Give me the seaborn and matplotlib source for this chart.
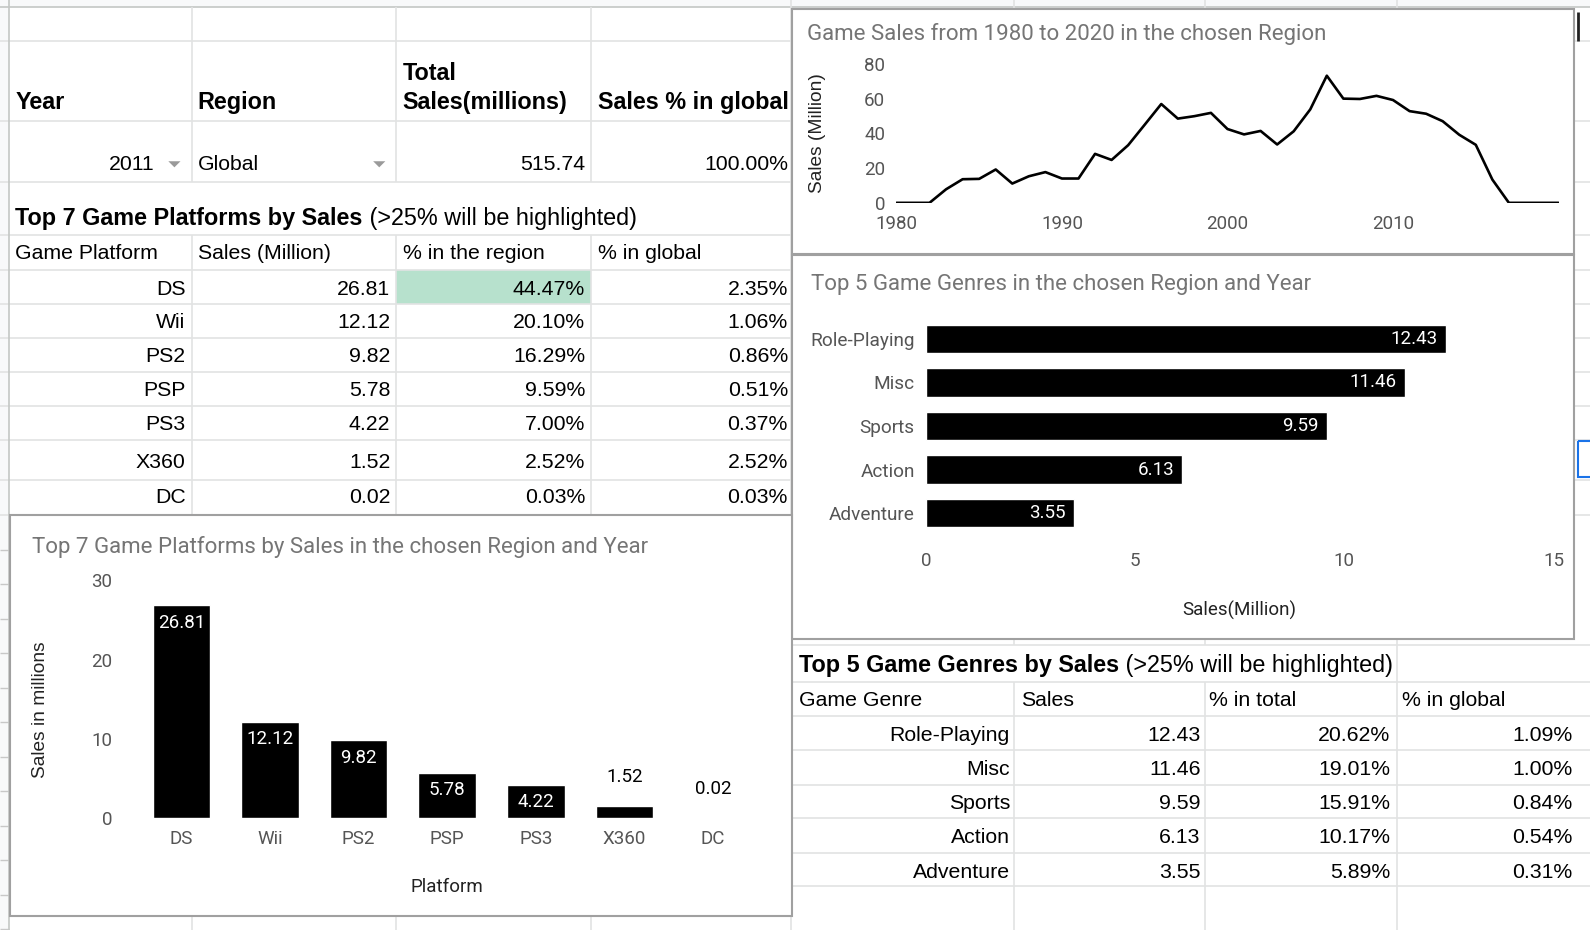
import numpy as np
import pandas as pd
import matplotlib.pyplot as plt
from matplotlib.patches import Rectangle, Polygon
import seaborn as sns

# layout was measured on the screenshot in pixels (W x H)
W, H = 1568, 917

# ---- data ----
years = list(range(1980, 2021))
region_sales = [0, 0, 0, 7.8, 13.6, 13.8, 19.2, 11.1, 15.3, 17.7,
                14.0, 14.0, 28.2, 24.7, 33.2, 45.0, 56.9, 48.5, 49.9, 51.8,
                42.5, 39.4, 41.4, 33.6, 41.2, 53.8, 73.2, 60.0, 59.8, 61.6,
                59.2, 52.8, 51.3, 47.0, 39.2, 33.4, 13.4, 0, 0, 0, 0]

sel_year = "2011"
sel_region = "Global"
sel_total = "515.74"
sel_pct = "100.00%"

platforms = ["DS", "Wii", "PS2", "PSP", "PS3", "X360", "DC"]
platform_sales = [26.81, 12.12, 9.82, 5.78, 4.22, 1.52, 0.02]
platform_region_pct = [44.47, 20.10, 16.29, 9.59, 7.00, 2.52, 0.03]
platform_global_pct = [2.35, 1.06, 0.86, 0.51, 0.37, 2.52, 0.03]

genres = ["Role-Playing", "Misc", "Sports", "Action", "Adventure"]
genre_sales = [12.43, 11.46, 9.59, 6.13, 3.55]
genre_total_pct = [20.62, 19.01, 15.91, 10.17, 5.89]
genre_global_pct = [1.09, 1.00, 0.84, 0.54, 0.31]

sns.set_theme(style="white")
plt.rcParams['font.family'] = ['Roboto', 'DejaVu Sans']

SHEET_FONT = ['Liberation Sans', 'DejaVu Sans']
GRID = '#e2e3e3'
TITLE_C = '#757575'
TICK_C = '#555555'
BODY = 15.3   # sheet body text
HEAD = 16.8   # bold sheet headers


def frac(x0, y0, x1, y1):
    '''pixel box -> figure fraction rect'''
    return [x0 / W, 1 - y1 / H, (x1 - x0) / W, (y1 - y0) / H]


fig = plt.figure(figsize=(15.9, 9.3), dpi=100)
bg = fig.add_axes([0, 0, 1, 1])
bg.set_xlim(0, W)
bg.set_ylim(H, 0)
bg.axis('off')


def cell(x, y, s, ha='left', bold=False):
    return bg.text(x, y, s, ha=ha, va='center', fontsize=HEAD if bold else BODY,
                   family=SHEET_FONT, fontweight='bold' if bold else 'normal',
                   color='black', zorder=2)


# sheet headers strips
bg.add_patch(Rectangle((0, 0), W, 7, facecolor='#f8f9fa', edgecolor='none', zorder=0))
bg.add_patch(Rectangle((0, 0), 9, H, facecolor='#f8f9fa', edgecolor='none', zorder=0))

# highlighted cell (>25%)
top_rows = [266, 300, 333, 367, 400, 434, 473]
for i, p in enumerate(platform_region_pct):
    if p > 25:
        bg.add_patch(Rectangle((391, top_rows[i]), 192, 34, facecolor='#b7e1cd',
                               edgecolor='none', zorder=1))

# grid lines, left block
left_rows = [40, 119, 179, 232, 266, 300, 333, 367, 400, 434, 473, 508]
bg.hlines(left_rows, 0, W, color=GRID, lw=1.2, zorder=1)
bg.hlines(np.arange(542, H, 34), 0, 9, color='#c8c8c8', lw=1, zorder=1)
bg.hlines(7, 0, W, color='#c4c7c5', lw=1.2, zorder=1)
bg.vlines(9, 0, H, color='#c4c7c5', lw=1.2, zorder=1)
for x in [189, 391, 583]:
    bg.vlines(x, 7, 179, color=GRID, lw=1.2, zorder=1)
    bg.vlines(x, 232, H, color=GRID, lw=1.2, zorder=1)
bg.vlines(780, 0, H, color=GRID, lw=1.2, zorder=1)

# grid lines, right block
right_rows = [636, 672, 706, 740, 774, 807, 841, 874]
bg.hlines(right_rows, 780, W, color=GRID, lw=1.2, zorder=1)
for x in [1000, 1188]:
    bg.vlines(x, 0, 636, color=GRID, lw=1.2, zorder=1)
    bg.vlines(x, 672, H, color=GRID, lw=1.2, zorder=1)
bg.vlines(1378, 0, H, color=GRID, lw=1.2, zorder=1)

# top-left table
cell(15, 101, "Year", bold=True)
cell(195, 101, "Region", bold=True)
cell(397, 72, "Total", bold=True)
cell(397, 101, "Sales(millions)", bold=True)
cell(590, 101, "Sales % in global", bold=True)
cell(152, 162, sel_year, ha='right')
cell(195, 162, sel_region)
cell(577, 162, sel_total, ha='right')
cell(777, 162, sel_pct, ha='right')
for cx in [172, 374]:
    bg.add_patch(Polygon([[cx - 6, 159], [cx + 6, 159], [cx, 165]], closed=True,
                         facecolor='#9a9a9a', edgecolor='none', zorder=2))

t = cell(15, 215, "Top 7 Game Platforms by Sales", bold=True)
bg.annotate(" (>25% will be highlighted)", xy=(1, 0.5), xycoords=t, va='center',
            ha='left', fontsize=HEAD, family=SHEET_FONT, color='black')
cell(15, 250, "Game Platform")
cell(195, 250, "Sales (Million)")
cell(397, 250, "% in the region")
cell(590, 250, "% in global")
row_y = [285, 318, 352, 385, 419, 456, 491]
for i, p in enumerate(platforms):
    cell(183, row_y[i], p, ha='right')
    cell(385, row_y[i], f"{platform_sales[i]:.2f}", ha='right')
    cell(577, row_y[i], f"{platform_region_pct[i]:.2f}%", ha='right')
    cell(777, row_y[i], f"{platform_global_pct[i]:.2f}%", ha='right')

# bottom-right table
t = cell(788, 656, "Top 5 Game Genres by Sales", bold=True)
bg.annotate(" (>25% will be highlighted)", xy=(1, 0.5), xycoords=t, va='center',
            ha='left', fontsize=HEAD, family=SHEET_FONT, color='black')
cell(788, 691, "Game Genre")
cell(1007, 691, "Sales")
cell(1192, 691, "% in total")
cell(1383, 691, "% in global")
g_row_y = [725, 759, 792, 826, 860]
for i, g in enumerate(genres):
    cell(996, g_row_y[i], g, ha='right')
    cell(1184, g_row_y[i], f"{genre_sales[i]:.2f}", ha='right')
    cell(1371, g_row_y[i], f"{genre_total_pct[i]:.2f}%", ha='right')
    cell(1551, g_row_y[i], f"{genre_global_pct[i]:.2f}%", ha='right')

# small sheet details on the right edge
bg.vlines(1556, 12, 40, color='#222222', lw=2, zorder=2)
bg.add_patch(Rectangle((1556, 435), 20, 35, facecolor='none', edgecolor='#1a73e8',
                       lw=1.5, zorder=2))

# chart boxes
for (x0, y0, x1, y1) in [(781, 9, 1552, 250), (781, 251, 1552, 630), (10, 508, 781, 903)]:
    bg.add_patch(Rectangle((x0, y0), x1 - x0, y1 - y0, facecolor='white',
                           edgecolor='#a0a0a0', lw=1.5, zorder=3))

bg.text(796, 34, "Game Sales from 1980 to 2020 in the chosen Region", fontsize=16,
        color=TITLE_C, va='center', ha='left', zorder=4)
bg.text(800, 281, "Top 5 Game Genres in the chosen Region and Year", fontsize=16,
        color=TITLE_C, va='center', ha='left', zorder=4)
bg.text(32, 539, "Top 7 Game Platforms by Sales in the chosen Region and Year", fontsize=16,
        color=TITLE_C, va='center', ha='left', zorder=4)


def clean(ax):
    ax.set_facecolor('none')
    for s in ax.spines.values():
        s.set_visible(False)
    ax.tick_params(length=0, labelsize=13.5, labelcolor=TICK_C)


# ---- line chart ----
ax1 = fig.add_axes(frac(884, 63, 1537, 200))
sns.lineplot(x=years, y=region_sales, color='black', linewidth=1.9, ax=ax1)
ax1.set_xlim(1980, 2020)
ax1.set_ylim(0, 80)
ax1.set_xticks([1980, 1990, 2000, 2010])
ax1.set_yticks([0, 20, 40, 60, 80])
clean(ax1)
ax1.tick_params(axis='y', pad=8)
ax1.tick_params(axis='x', pad=9)
ax1.set_ylabel("Sales (Million)", family=SHEET_FONT, fontsize=13.8, color='#222222')
ax1.yaxis.set_label_coords(-0.107, 0.5)

# ---- genre bar chart ----
ax2 = fig.add_axes(frac(913, 312.5, 1532, 527.5))
sns.barplot(x=genre_sales, y=genres, orient='h', color='black', saturation=1,
            width=0.65, ax=ax2)
ax2.set_xlim(0, 15)
ax2.set_ylim(4.5, -0.5)
ax2.set_xticks([0, 5, 10, 15])
clean(ax2)
ax2.tick_params(axis='y', pad=8, labelsize=13.7)
ax2.tick_params(axis='x', pad=12.5)
for i, v in enumerate(genre_sales):
    ax2.annotate(f"{v:.2f}", xy=(v, i), xytext=(-6, 0), textcoords='offset points',
                 ha='right', va='center', color='white', fontsize=13.5)
ax2.set_xlabel("Sales(Million)", fontsize=13.5, color='#222222')
ax2.xaxis.set_label_coords(0.5, -0.300)

# ---- platform bar chart ----
ax3 = fig.add_axes(frac(135.35, 572, 746.65, 807))
sns.barplot(x=platforms, y=platform_sales, color='black', saturation=1,
            width=0.65, ax=ax3)
ax3.set_xlim(-0.5, 6.5)
ax3.set_ylim(0, 30)
ax3.set_yticks([0, 10, 20, 30])
clean(ax3)
ax3.tick_params(axis='y', pad=18)
ax3.tick_params(axis='x', pad=8.5)
for i, v in enumerate(platform_sales):
    if v > 3.8:
        ax3.annotate(f"{v:.2f}", xy=(i, v), xytext=(0, -12.4), textcoords='offset points',
                     ha='center', va='center', color='white', fontsize=13.5)
    else:
        ax3.annotate(f"{v:.2f}", xy=(i, v), xytext=(0, 21), textcoords='offset points',
                     ha='center', va='center', color='black', fontsize=13.5)
ax3.set_xlabel("Platform", fontsize=13.5, color='#222222')
ax3.xaxis.set_label_coords(0.5, -0.251)
ax3.set_ylabel("Sales in millions", family=SHEET_FONT, fontsize=13.8, color='#222222')
ax3.yaxis.set_label_coords(-0.143, 0.455)

fig.savefig("out.png", dpi=100)
